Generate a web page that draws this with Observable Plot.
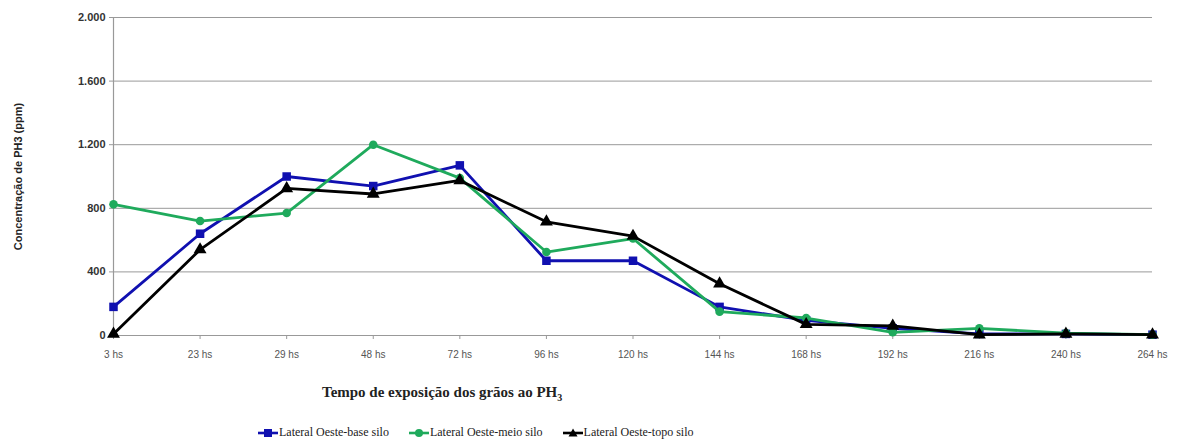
<!DOCTYPE html>
<html><head><meta charset="utf-8">
<script src="https://cdn.jsdelivr.net/npm/d3@7"></script>
<script src="https://cdn.jsdelivr.net/npm/@observablehq/plot@0.6"></script>
<style>
body{margin:0;background:#fff;}
#wrap{position:relative;width:1180px;height:446px;overflow:hidden;}
#xtitle{position:absolute;left:322px;top:384px;font-family:"Liberation Serif","Times New Roman",serif;font-weight:bold;font-size:15px;color:#222;white-space:nowrap;}
#legend{position:absolute;left:258px;top:425px;font-family:"Liberation Serif","Times New Roman",serif;font-size:12px;color:#222;white-space:nowrap;display:flex;align-items:center;}
#legend span.item{display:inline-flex;align-items:center;margin-right:20px;font-family:"Liberation Serif","Times New Roman",serif;}
#legend svg{margin-right:1px;}
</style></head>
<body><div id="wrap"><div id="chart"></div>
<div id="xtitle">Tempo de exposição dos grãos ao PH<sub style="font-size:10px">3</sub></div>
<div id="legend"></div></div>
<script>
const categories = ["3 hs","23 hs","29 hs","48 hs","72 hs","96 hs","120 hs","144 hs","168 hs","192 hs","216 hs","240 hs","264 hs"];
const baseSilo = [180, 640, 1000, 940, 1070, 470, 470, 180, 95, 45, 10, 10, 5];
const meioSilo = [825, 720, 770, 1200, 990, 525, 610, 150, 110, 20, 45, 15, 5];
const topoSilo = [10, 540, 925, 890, 975, 715, 625, 325, 70, 60, 5, 10, 5];
const seriesNames = ["Lateral Oeste-base silo","Lateral Oeste-meio silo","Lateral Oeste-topo silo"];
const yTicks = [0, 400, 800, 1200, 1600, 2000];
const yLabel = "Concentração de PH3 (ppm)";

const colors = ["#1010b0", "#1faa5c", "#000000"];
const symbols = ["square", "circle", "triangle"];
const seriesValues = [baseSilo, meioSilo, topoSilo];
const data = [];
seriesValues.forEach((vals, s) => vals.forEach((v, i) => data.push({cat: categories[i], value: v, series: seriesNames[s]})));

const loc = d3.formatLocale({decimal: ",", thousands: ".", grouping: [3], currency: ["R$", ""]});
const fmt = loc.format(",d");

const marks = [
  Plot.gridY(yTicks.filter(d => d > 0), {stroke: "#999", strokeOpacity: 1, strokeWidth: 1}),
  Plot.ruleY([0], {stroke: "#999", strokeWidth: 1.2}),
  Plot.ruleX([categories[0]], {stroke: "#999", strokeWidth: 1.2}),
  Plot.axisY({ticks: yTicks, tickFormat: fmt, tickSize: 4, tickPadding: 4, stroke: "#999", fontWeight: "bold", fontSize: 11, fill: "#333", label: null}),
  Plot.axisX({tickSize: 4, tickPadding: 11, stroke: "#999", fontSize: 10, fill: "#555", label: null}),
  Plot.text([yLabel], {frameAnchor: "left", dx: -95, rotate: -90, textAnchor: "middle", fontWeight: "bold", fontSize: 11, fill: "#222"})
];
seriesNames.forEach((name, s) => {
  const d = data.filter(r => r.series === name);
  marks.push(Plot.lineY(d, {x: "cat", y: "value", stroke: colors[s], strokeWidth: 2.8}));
  marks.push(Plot.dot(d, {x: "cat", y: "value", fill: colors[s], symbol: () => symbols[s], r: s === 1 ? 4.3 : 4.8, stroke: "none"}));
});

const chart = Plot.plot({
  width: 1180, height: 370,
  marginTop: 17, marginBottom: 35, marginLeft: 113, marginRight: 28,
  style: {fontFamily: "'Liberation Sans', Arial, sans-serif", background: "#fff", overflow: "visible"},
  x: {type: "point", domain: categories, padding: 0, round: false},
  y: {domain: [0, 2000]},
  marks
});
document.getElementById("chart").appendChild(chart);

const leg = document.getElementById("legend");
seriesNames.forEach((name, s) => {
  const it = document.createElement("span");
  it.className = "item";
  let sym;
  if (s === 0) sym = `<rect x="6" y="3" width="8" height="8" fill="${colors[s]}"/>`;
  else if (s === 1) sym = `<circle cx="10" cy="7" r="4" fill="${colors[s]}"/>`;
  else sym = `<polygon points="10,2.5 14.5,10.5 5.5,10.5" fill="${colors[s]}"/>`;
  it.innerHTML = `<svg width="20" height="14"><line x1="0" x2="20" y1="7" y2="7" stroke="${colors[s]}" stroke-width="2.6"/>${sym}</svg>${name}`;
  leg.appendChild(it);
});
</script></body></html>
